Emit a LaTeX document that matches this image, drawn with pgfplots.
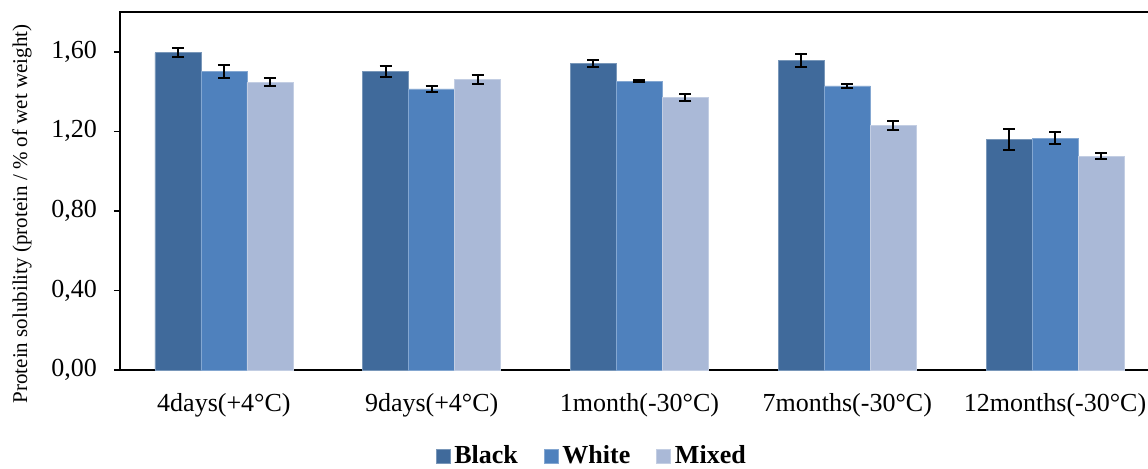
\documentclass[border=0pt]{standalone}
\usepackage{pgfplots}
\pgfplotsset{compat=1.18}
\usepackage{pgfplotstable}
\usepackage{fontspec}
\setmainfont{Liberation Serif}
\definecolor{cBlack}{RGB}{64,106,155}
\definecolor{cWhite}{RGB}{79,129,189}
\definecolor{cMixed}{RGB}{170,185,215}
\pgfplotstableread{
x Black eB White eW Mixed eM
0 1.595 0.022 1.502 0.032 1.446 0.020
1 1.500 0.029 1.413 0.015 1.462 0.023
2 1.542 0.019 1.451 0.005 1.369 0.018
3 1.555 0.034 1.428 0.012 1.230 0.023
4 1.160 0.054 1.166 0.029 1.076 0.017
}\datatable
\begin{document}
\begin{tikzpicture}
\begin{axis}[
  name=ax, at={(0,0)}, anchor=south west,
  scale only axis, width=519.5pt, height=179pt,
  ybar=0pt, bar width=23pt,
  xmin=-0.5, xmax=4.5, ymin=0, ymax=1.8,
  xtick=data,
  xticklabels={4days(+4°C),9days(+4°C),1month(-30°C),7months(-30°C),12months(-30°C)},
  x tick style={draw=none},
  ytick={0,0.4,0.8,1.2,1.6},
  tick align=outside, major tick length=3pt,
  y tick style={black, line width=0.8pt},
  yticklabel style={/pgf/number format/fixed, /pgf/number format/fixed zerofill, /pgf/number format/precision=2, /pgf/number format/use comma, /pgf/number format/assume math mode=true, xshift=-5pt, font=\fontsize{13}{15}\selectfont},
  xticklabel style={font=\fontsize{13}{15}\selectfont, yshift=-5pt},
  axis line style={black, line width=0.9pt},
  ylabel={Protein solubility (protein / \% of wet weight)},
  ylabel style={font=\fontsize{10.5}{12}\selectfont, at={(axis description cs:-0.0943,0.436)}, anchor=center},
  legend style={draw=none, at={(axis description cs:0.455,-0.24)}, anchor=center,
    legend columns=3, font=\bfseries\fontsize{13}{16}\selectfont,
    /tikz/every even column/.append style={column sep=11pt}},
  legend image code/.code={\fill[#1] (0pt,-3.5pt) rectangle (7pt,3.5pt);},
  error bars/error bar style={black, line width=1pt},
  error bars/error mark options={rotate=90, mark size=3pt, line width=1pt, black},
]
\addplot[fill=cBlack, draw=cBlack!70!white, line width=0.3pt,
  error bars/.cd, y dir=both, y explicit] table[x=x, y=Black, y error=eB] {\datatable};
\addplot[fill=cWhite, draw=cWhite!70!white, line width=0.3pt,
  error bars/.cd, y dir=both, y explicit] table[x=x, y=White, y error=eW] {\datatable};
\addplot[fill=cMixed, draw=cMixed!70!white, line width=0.3pt,
  error bars/.cd, y dir=both, y explicit] table[x=x, y=Mixed, y error=eM] {\datatable};
\legend{Black,White,Mixed}
\end{axis}
\pgfresetboundingbox
\useasboundingbox (-60pt,-49pt) rectangle (514pt,185pt);
\end{tikzpicture}
\end{document}
